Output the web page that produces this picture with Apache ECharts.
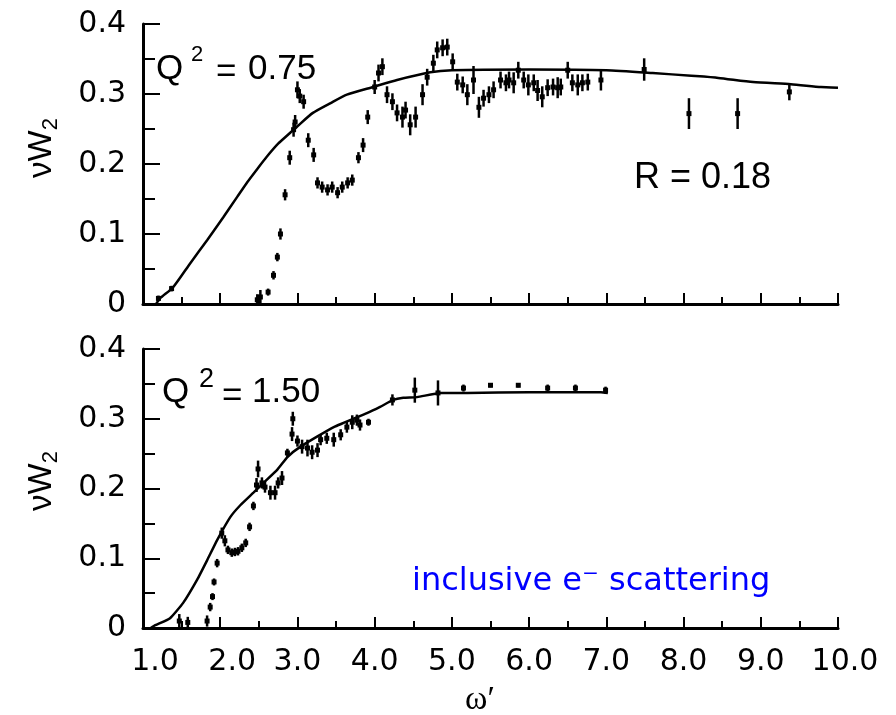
<!DOCTYPE html>
<html>
<head>
<meta charset="utf-8">
<script src="https://cdn.jsdelivr.net/npm/echarts@6/dist/echarts.min.js"></script>
<style>html,body{margin:0;padding:0;background:#fff}#c{width:896px;height:715px}</style>
</head>
<body>
<div id="c"></div>
<script>
// ---------- data ----------
const xTicks = [1,2,3,4,5,6,7,8,9,10];
const yTicks = [0,0.1,0.2,0.3,0.4];

// Top panel (Q^2 = 0.75): fit curve
const topCurveX = [1.17,1.22,1.39,1.61,1.83,2.04,2.22,2.35,2.48,2.6,2.75,2.91,3.0,3.2,3.43,3.64,3.98,4.29,4.72,5.0,6.0,7.0,7.6,8.1,8.45,8.9,9.39,9.78,10.0];
const topCurveY = [0.0,0.008,0.024,0.058,0.091,0.124,0.153,0.174,0.193,0.210,0.229,0.245,0.254,0.273,0.287,0.299,0.31,0.32,0.331,0.334,0.335,0.334,0.33,0.326,0.323,0.317,0.314,0.31,0.309];
// Top panel data points
const topDataX = [1.2,1.37,2.48,2.52,2.62,2.69,2.74,2.78,2.84,2.90,2.95,2.97,3.0,3.03,3.08,3.14,3.21,3.26,3.32,3.39,3.45,3.52,3.58,3.65,3.71,3.79,3.85,3.91,4.0,4.05,4.1,4.16,4.23,4.29,4.36,4.4,4.46,4.53,4.62,4.68,4.76,4.81,4.88,4.94,5.01,5.07,5.14,5.2,5.28,5.35,5.41,5.48,5.54,5.63,5.7,5.74,5.8,5.86,5.93,5.99,6.06,6.11,6.17,6.24,6.31,6.37,6.41,6.5,6.56,6.63,6.69,6.76,6.93,7.49,8.07,8.7,9.37];
const topDataY = [0.008,0.022,0.006,0.01,0.017,0.041,0.067,0.10,0.156,0.209,0.249,0.26,0.306,0.297,0.289,0.234,0.213,0.173,0.167,0.163,0.167,0.159,0.167,0.173,0.177,0.209,0.227,0.267,0.31,0.33,0.339,0.299,0.289,0.273,0.267,0.277,0.256,0.267,0.299,0.324,0.344,0.363,0.366,0.367,0.346,0.317,0.313,0.299,0.32,0.281,0.294,0.299,0.306,0.32,0.316,0.32,0.316,0.334,0.32,0.313,0.316,0.305,0.296,0.309,0.31,0.309,0.31,0.334,0.316,0.313,0.316,0.317,0.32,0.335,0.272,0.272,0.303];
const topDataErr = [0.004,0.004,0.008,0.01,0.005,0.006,0.006,0.008,0.008,0.01,0.01,0.01,0.012,0.01,0.01,0.01,0.01,0.008,0.008,0.008,0.008,0.008,0.008,0.008,0.008,0.008,0.01,0.01,0.01,0.012,0.012,0.012,0.012,0.012,0.015,0.012,0.015,0.015,0.015,0.012,0.012,0.012,0.012,0.012,0.012,0.012,0.012,0.015,0.02,0.015,0.012,0.012,0.012,0.012,0.012,0.012,0.015,0.012,0.012,0.015,0.012,0.015,0.015,0.012,0.012,0.015,0.012,0.012,0.012,0.015,0.012,0.012,0.015,0.016,0.022,0.022,0.012];

// Bottom panel (Q^2 = 1.50): fit curve
const botCurveX = [1.1,1.16,1.35,1.52,1.7,1.83,1.96,2.13,2.26,2.43,2.56,2.74,2.87,3.04,3.47,3.9,4.07,4.24,4.37,4.55,4.85,5.2,6.0,6.93,7.02];
const botCurveY = [0.0,0.004,0.014,0.036,0.069,0.097,0.126,0.159,0.176,0.194,0.208,0.227,0.245,0.26,0.288,0.308,0.317,0.327,0.33,0.331,0.337,0.337,0.338,0.338,0.337];
// Bottom panel data points
const botDataX = [1.47,1.58,1.83,1.87,1.9,1.92,1.96,2.02,2.06,2.1,2.15,2.19,2.23,2.28,2.33,2.38,2.43,2.47,2.49,2.54,2.58,2.65,2.71,2.75,2.8,2.87,2.93,2.94,3.0,3.06,3.13,3.19,3.26,3.3,3.38,3.47,3.56,3.64,3.71,3.77,3.81,3.92,4.23,4.52,4.82,5.15,5.5,5.86,6.24,6.6,6.99];
const botDataY = [0.01,0.008,0.01,0.03,0.045,0.066,0.093,0.136,0.125,0.112,0.108,0.109,0.11,0.115,0.122,0.145,0.175,0.205,0.228,0.208,0.202,0.194,0.194,0.208,0.215,0.251,0.278,0.3,0.268,0.26,0.258,0.252,0.255,0.27,0.272,0.27,0.277,0.288,0.295,0.298,0.291,0.295,0.327,0.341,0.337,0.344,0.348,0.348,0.344,0.344,0.341];
const botDataErr = [0.01,0.008,0.008,0.006,0.005,0.005,0.006,0.008,0.008,0.006,0.006,0.006,0.006,0.006,0.006,0.006,0.006,0.01,0.012,0.008,0.008,0.01,0.01,0.008,0.01,0.006,0.01,0.01,0.008,0.01,0.012,0.01,0.01,0.008,0.008,0.01,0.008,0.008,0.01,0.008,0.008,0.005,0.008,0.018,0.018,0.005,0.003,0.003,0.005,0.005,0.005];

// ---------- build ----------
const zip2 = (a,b) => a.map((v,i)=>[v,b[i]]);
const zip3 = (a,b,c) => a.map((v,i)=>[v,b[i],c[i]]);

function renderErr(params, api) {
  const x = api.value(0), y = api.value(1), e = api.value(2);
  const t = api.coord([x, y + e]);
  const b = api.coord([x, Math.max(0, y - e)]);
  const c = api.coord([x, y]);
  return {
    type: 'group',
    children: [
      { type: 'line', shape: { x1: t[0], y1: t[1], x2: b[0], y2: b[1] }, style: { stroke: '#000', lineWidth: 2.5 } },
      { type: 'rect', shape: { x: c[0] - 2.5, y: c[1] - 2.5, width: 5, height: 5 }, style: { fill: '#000' } }
    ]
  };
}

const axisCommonX = (idx, showLabels) => ({
  type: 'value', gridIndex: idx, min: 1, max: 10, interval: 1,
  axisLine: { show: true, onZero: false, lineStyle: { color: '#000', width: 3 } },
  axisTick: { show: true, inside: true, length: 11, lineStyle: { color: '#000', width: 2 } },
  minorTick: { show: true, splitNumber: 2, length: 7, lineStyle: { color: '#000', width: 2 } },
  splitLine: { show: false },
  axisLabel: { show: showLabels, margin: 19, color: '#000', fontFamily: 'DejaVu Sans', fontSize: 30,
    rich: {
      s12: { fontFamily: 'DejaVu Sans', fontSize: 30, color: '#000', padding: [0, 0, 0, 24] },
      s8: { fontFamily: 'DejaVu Sans', fontSize: 30, color: '#000', padding: [0, 0, 0, 14] }
    },
    formatter: v => {
      if (!xTicks.includes(v)) return '';
      const s = v.toFixed(1);
      if (v === 1 || v === 2) return '{s12|' + s + '}';
      if (v === 10) return '{s8|' + s + '}';
      return s;
    } }
});
const axisCommonY = (idx) => ({
  type: 'value', gridIndex: idx, min: 0, max: 0.4, interval: 0.1,
  axisLine: { show: true, onZero: false, lineStyle: { color: '#000', width: 3 } },
  axisTick: { show: true, inside: true, length: 17, lineStyle: { color: '#000', width: 2 } },
  minorTick: { show: true, splitNumber: 2, length: 12, lineStyle: { color: '#000', width: 2 } },
  splitLine: { show: false },
  axisLabel: { show: true, margin: 17, color: '#000', fontFamily: 'DejaVu Sans', fontSize: 30,
    formatter: v => { const r = Math.round(v*10)/10; return yTicks.includes(r) ? (r === 0 ? '0' : r.toFixed(1)) : ''; } }
});

const txt = (text, x, y, size, opts) => Object.assign({
  type: 'text', x: x, y: y,
  style: Object.assign({ text: text, font: size + 'px "Liberation Sans"', fill: '#000', align: 'left', verticalAlign: 'middle' }, (opts && opts.style) || {})
}, opts && opts.el || {});

const yTitle = (x, y) => ({
  type: 'text', x: x, y: y, rotation: Math.PI / 2,
  style: {
    text: '{a|νW}{b|2}', align: 'center', verticalAlign: 'middle', fill: '#000',
    rich: {
      a: { fontFamily: 'Liberation Sans', fontSize: 33, lineHeight: 40, fill: '#000' },
      b: { fontFamily: 'Liberation Sans', fontSize: 22, lineHeight: 22, verticalAlign: 'bottom', fill: '#000' }
    }
  }
});

const chart = echarts.init(document.getElementById('c'), null, { renderer: 'canvas' });
chart.setOption({
  backgroundColor: '#fff',
  animation: false,
  grid: [
    { left: 143, right: 58, top: 24, height: 280 },
    { left: 143, right: 58, top: 349, height: 279 }
  ],
  xAxis: [axisCommonX(0, false), axisCommonX(1, true)],
  yAxis: [axisCommonY(0), axisCommonY(1)],
  series: [
    { type: 'line', xAxisIndex: 0, yAxisIndex: 0, data: zip2(topCurveX, topCurveY), showSymbol: false, smooth: 0.2,
      lineStyle: { color: '#000', width: 2.5 }, z: 3 },
    { type: 'custom', xAxisIndex: 0, yAxisIndex: 0, data: zip3(topDataX, topDataY, topDataErr),
      encode: { x: 0, y: 1 }, renderItem: renderErr, z: 4 },
    { type: 'line', xAxisIndex: 1, yAxisIndex: 1, data: zip2(botCurveX, botCurveY), showSymbol: false, smooth: 0.15,
      lineStyle: { color: '#000', width: 2.5 }, z: 3 },
    { type: 'custom', xAxisIndex: 1, yAxisIndex: 1, data: zip3(botDataX, botDataY, botDataErr),
      encode: { x: 0, y: 1 }, renderItem: renderErr, z: 4 }
  ],
  graphic: [
    txt('Q', 156, 69, 35),
    txt('2', 191, 55, 22),
    txt('=', 216, 72, 35),
    txt('0.75', 248, 69, 35),
    txt('R = 0.18', 634, 178, 36),
    txt('Q', 162, 392, 35),
    txt('2', 199, 380, 27),
    txt('=', 222, 396, 35),
    txt('1.50', 252, 392, 35),
    txt('inclusive e\u207B scattering', 412, 582, 32, { style: { font: '32px "DejaVu Sans"', fill: '#0000ff' } }),
    txt('\u03C9\u2032', 480, 700, 34, { style: { font: '34px "Liberation Serif"', align: 'center' } }),
    yTitle(42, 148),
    yTitle(42, 481)
  ]
});
</script>
</body>
</html>
